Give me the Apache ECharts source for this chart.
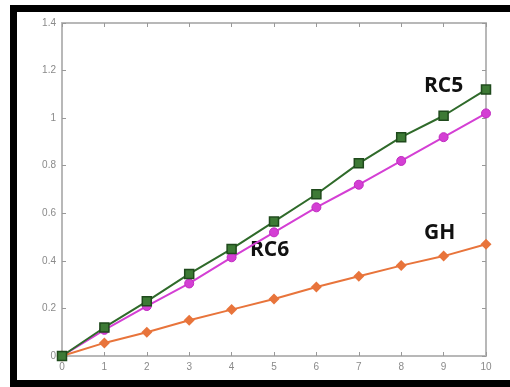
<!DOCTYPE html>
<html><head><meta charset="utf-8">
<script src="https://cdn.jsdelivr.net/npm/echarts@6/dist/echarts.min.js"></script>
<style>html,body{margin:0;padding:0;background:#fff}#c{width:510px;height:387px}</style>
</head><body><div id="c"></div>
<script>
const xValues = [0,1,2,3,4,5,6,7,8,9,10];
const rc5 = [0,0.12,0.23,0.345,0.45,0.565,0.68,0.81,0.92,1.01,1.12];
const rc6 = [0,0.11,0.21,0.305,0.415,0.52,0.625,0.72,0.82,0.92,1.02];
const gh  = [0,0.055,0.10,0.15,0.195,0.24,0.29,0.335,0.38,0.42,0.47];
const seriesNames = ['RC5','RC6','GH'];
const yTicks = [0,0.2,0.4,0.6,0.8,1,1.2,1.4];

const chart = echarts.init(document.getElementById('c'), null, {renderer:'canvas'});
const pair = arr => arr.map((v,i)=>[xValues[i], v]);
const axisCommon = () => ({
  axisLine:{show:true,onZero:false,lineStyle:{color:'#b8b8b8',width:2}},
  axisTick:{show:true,inside:true,length:4,lineStyle:{color:'#999'}},
  splitLine:{show:false}
});
chart.setOption({
  animation:false,
  grid:{left:62,right:24,top:23,bottom:31,show:false},
  xAxis:[
    Object.assign({type:'value',min:0,max:10,interval:1,
      axisLabel:{color:'#8a8a8a',fontSize:10,margin:6,fontFamily:'Liberation Sans'}},axisCommon()),
    Object.assign({type:'value',position:'top',min:0,max:10,interval:1,axisLabel:{show:false}},axisCommon())
  ],
  yAxis:[
    Object.assign({type:'value',min:0,max:1.4,interval:0.2,
      axisLabel:{color:'#8a8a8a',fontSize:10,margin:6,fontFamily:'Liberation Sans',
        formatter:v=>String(+v.toFixed(1))}},axisCommon()),
    Object.assign({type:'value',position:'right',min:0,max:1.4,interval:0.2,axisLabel:{show:false}},axisCommon())
  ],
  series:[
    {name:seriesNames[0],type:'line',data:pair(rc5),symbol:'rect',symbolSize:9,
      lineStyle:{color:'#2f6a2a',width:2},itemStyle:{color:'#3d7a35',borderColor:'#1f4a1c',borderWidth:1.5},z:3},
    {name:seriesNames[1],type:'line',data:pair(rc6),symbol:'circle',symbolSize:9,
      lineStyle:{color:'#d43fd4',width:2},itemStyle:{color:'#d43fd4',borderColor:'#c02bc0',borderWidth:1},z:2},
    {name:seriesNames[2],type:'line',data:pair(gh),symbol:'diamond',symbolSize:11,
      lineStyle:{color:'#e8743b',width:2},itemStyle:{color:'#e8743b'},z:2}
  ],
  graphic:[
    {type:'rect',shape:{x:10,y:5,width:500,height:7},style:{fill:'#000'}},
    {type:'rect',shape:{x:10,y:5,width:7,height:382},style:{fill:'#000'}},
    {type:'rect',shape:{x:10,y:380,width:500,height:7},style:{fill:'#000'}},
    {type:'text',left:424,top:76,style:{text:'RC5',font:'bold 21px "Open Sans"',fill:'#111'}},
    {type:'text',left:250,top:240,style:{text:'RC6',font:'bold 21px "Open Sans"',fill:'#111'}},
    {type:'text',left:424,top:223,style:{text:'GH',font:'bold 21px "Open Sans"',fill:'#111'}}
  ]
});
</script></body></html>
